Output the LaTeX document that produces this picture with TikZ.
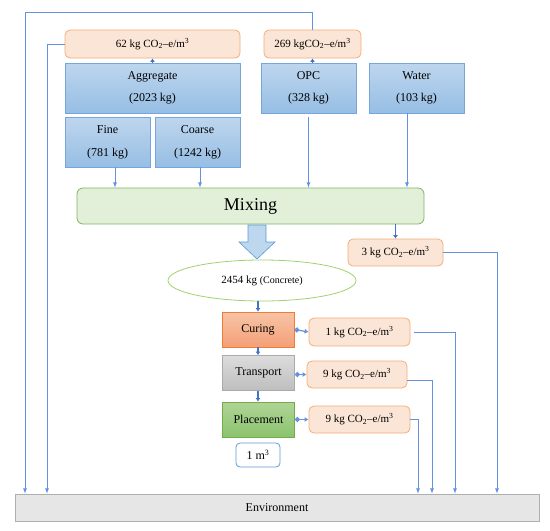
\documentclass[tikz,border=0pt]{standalone}
\usepackage{fontspec}
\setmainfont{Liberation Serif}
\usepackage{tikz}
\usetikzlibrary{arrows,arrows.meta,shapes,positioning,calc}

\definecolor{lineblue}{RGB}{100,145,225}
\definecolor{darkblue}{RGB}{68,114,196}
\definecolor{orfill}{RGB}{251,229,214}
\definecolor{orline}{RGB}{245,172,120}
\definecolor{bltop}{RGB}{190,214,238}
\definecolor{blbot}{RGB}{150,190,228}
\definecolor{blline}{RGB}{120,165,220}
\definecolor{mixfill}{RGB}{226,240,217}
\definecolor{mixline}{RGB}{130,180,100}
\definecolor{envfill}{RGB}{230,230,230}
\definecolor{envline}{RGB}{175,175,175}

\tikzset{
    emis/.style={draw=orline, fill=orfill, rounded corners=5pt, line width=0.8pt, inner sep=0pt, minimum height=28, font=\fontsize{11}{13}\selectfont},
    input/.style={draw=blline, top color=bltop, bottom color=blbot, inner sep=0pt, minimum height=50, align=center, font=\fontsize{12}{14}\selectfont},
    stage/.style={inner sep=0pt, minimum width=72, minimum height=35, line width=0.8pt, font=\fontsize{12}{14}\selectfont},
    flow/.style={draw=lineblue, line width=0.8pt, -latex},
    short/.style={draw=darkblue, line width=1.6pt, -{Latex[length=3.5pt,width=5pt]}},
    emitarrow/.style={draw=lineblue, line width=1.2pt, {Circle[length=5pt]}-{Latex[length=4pt,width=5pt]}}
}

\begin{document}
\begin{tikzpicture}[x=1pt, y=-1pt]
    \useasboundingbox (0,0) rectangle (550,531);

    % raw materials and their emissions
    \node[emis, minimum width=175] (e62) at (152.5,44) {62 kg CO\textsubscript{2}--e/m\textsuperscript{3}};
    \node[emis, minimum width=97] (e269) at (312.5,44) {269 kgCO\textsubscript{2}--e/m\textsuperscript{3}};
    \node[input, minimum width=175] (agg) at (152.5,88) {Aggregate\\[8pt](2023 kg)};
    \node[input, minimum width=85] (fine) at (107.5,142) {Fine\\[9pt](781 kg)};
    \node[input, minimum width=85] (coarse) at (197.5,142) {Coarse\\[9pt](1242 kg)};
    \node[input, minimum width=95] (opc) at (308.5,88) {OPC\\[8pt](328 kg)};
    \node[input, minimum width=95] (water) at (416.5,88) {Water\\[8pt](103 kg)};

    % mixing and concrete
    \node[draw=mixline, fill=mixfill, rounded corners=6pt, line width=0.8pt, minimum width=347, minimum height=36, font=\fontsize{18}{20}\selectfont] (mix) at (250.5,206) {Mixing};
    \node[emis, minimum width=95, minimum height=27] (e3) at (395.5,252.5) {3 kg CO\textsubscript{2}--e/m\textsuperscript{3}};
    \node[ellipse, draw={rgb,255:red,160;green,210;blue,110}, line width=0.8pt, minimum width=188, minimum height=41, inner sep=0pt] (conc) at (262,280.5) {\fontsize{11}{13}\selectfont 2454 kg \fontsize{10}{12}\selectfont(Concrete)};
    \draw[draw={rgb,255:red,91;green,155;blue,213}, fill={rgb,255:red,189;green,215;blue,238}, line width=0.6pt]
        (248,225) -- (266,225) -- (266,242) -- (275,242) -- (257,259) -- (239,242) -- (248,242) -- cycle;

    % stages after mixing
    \node[stage, draw={rgb,255:red,237;green,125;blue,49}, top color={rgb,255:red,248;green,196;blue,165}, bottom color={rgb,255:red,243;green,160;blue,120}] (curing) at (258,329.5) {Curing};
    \node[stage, draw={rgb,255:red,170;green,170;blue,170}, top color={rgb,255:red,220;green,220;blue,220}, bottom color={rgb,255:red,190;green,190;blue,190}] (transport) at (258.5,373) {Transport};
    \node[stage, draw={rgb,255:red,112;green,173;blue,71}, top color={rgb,255:red,175;green,213;blue,150}, bottom color={rgb,255:red,140;green,195;blue,110}] (placement) at (258.5,419.5) {Placement};
    \node[emis, minimum width=101] (e1) at (359.5,332) {1 kg CO\textsubscript{2}--e/m\textsuperscript{3}};
    \node[emis, minimum width=100, minimum height=27] (e9t) at (357,374.5) {9 kg CO\textsubscript{2}--e/m\textsuperscript{3}};
    \node[emis, minimum width=101, minimum height=27] (e9p) at (359.5,419.5) {9 kg CO\textsubscript{2}--e/m\textsuperscript{3}};
    \node[draw={rgb,255:red,91;green,155;blue,213}, rounded corners=4pt, line width=0.8pt, minimum width=44, minimum height=24, inner sep=0pt, font=\fontsize{12}{14}\selectfont] (unit) at (258,455) {1 m\textsuperscript{3}};

    \node[draw=envline, fill=envfill, line width=0.8pt, minimum width=524, minimum height=27, inner sep=0pt, font=\fontsize{12}{14}\selectfont] (env) at (277,507.5) {Environment};

    % short arrows
    \draw[short] (agg.north) -- (e62.south);
    \draw[short] (opc.north -| e269.south) -- (e269.south);
    \draw[short] (mix.south -| e3.north) -- (e3.north);
    \draw[short] (conc.south -| curing.north) -- (curing.north);
    \draw[short] (curing.south) -- (transport.north -| curing.south);
    \draw[short] (transport.south -| curing.south) -- (placement.north -| curing.south);

    % inputs into mixing
    \draw[flow] (fine.south -| 115,0) -- (mix.north -| 115,0);
    \draw[flow] (coarse.south -| 200,0) -- (mix.north -| 200,0);
    \draw[flow] ([yshift=-4pt]opc.south) -- (opc.south |- mix.north);
    \draw[flow] (water.south -| 407,0) -- (mix.north -| 407,0);

    % stage emissions
    \draw[emitarrow] (curing.east) -- (e1.west);
    \draw[emitarrow] (transport.east |- e9t.west) -- (e9t.west);
    \draw[emitarrow] (placement.east) -- (e9p.west);

    % emissions to environment
    \draw[flow] (e269.north) -- ++(0,-17) -| (env.north -| 25,0);
    \draw[flow] (e62.west) -| (env.north -| 47,0);
    \draw[flow] (e3.east) -| (env.north -| 497,0);
    \draw[flow] ([xshift=4pt]e1.east) -| (env.north -| 455,0);
    \draw[flow] (e9t.east |- 0,380) -| (env.north -| 432,0);
    \draw[flow] (e9p.east) -| (env.north -| 418,0);
\end{tikzpicture}
\end{document}
